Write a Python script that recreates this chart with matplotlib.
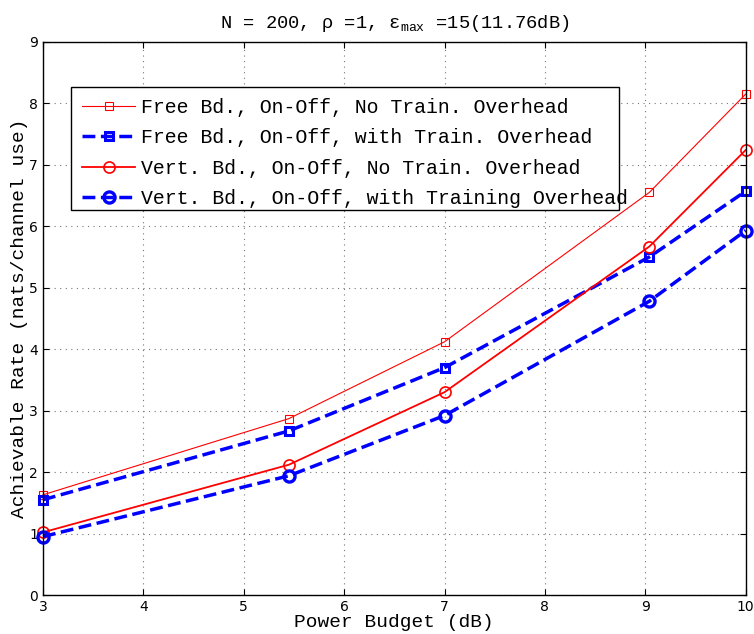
import numpy as np
import matplotlib.pyplot as plt
from matplotlib.patches import Rectangle

# ── data ──────────────────────────────────────────────────────────────────────
power_db = [3, 5.45, 7, 9.04, 10]
free_no_train   = [1.63, 2.87, 4.12, 6.55, 8.15]
free_with_train = [1.55, 2.67, 3.70, 5.50, 6.57]
vert_no_train   = [1.02, 2.12, 3.30, 5.67, 7.24]
vert_with_train = [0.95, 1.94, 2.92, 4.78, 5.93]

labels = ["Free Bd., On-Off, No Train. Overhead",
          "Free Bd., On-Off, with Train. Overhead",
          "Vert. Bd., On-Off, No Train. Overhead",
          "Vert. Bd., On-Off, with Training Overhead"]

MONO = "Liberation Mono"
plt.rcParams["mathtext.fontset"] = "custom"
plt.rcParams["mathtext.rm"] = MONO
plt.rcParams["mathtext.it"] = MONO

fig = plt.figure(figsize=(7.54, 6.34), dpi=100)
ax = fig.add_axes([0.057, 0.0615, 0.932, 0.8725])

ax.plot(power_db, free_no_train, "-s", color="red", lw=0.8, ms=6,
        mfc="none", mec="red", mew=0.8, label=labels[0], clip_on=False)
ax.plot(power_db, free_with_train, "--s", color="blue", lw=2.5, ms=6,
        mfc="none", mec="blue", mew=2.2, label=labels[1], clip_on=False)
ax.plot(power_db, vert_no_train, "-o", color="red", lw=1.3, ms=8,
        mfc="none", mec="red", mew=1.2, label=labels[2], clip_on=False)
ax.plot(power_db, vert_with_train, "--o", color="blue", lw=2.5, ms=8,
        mfc="none", mec="blue", mew=2.4, label=labels[3], clip_on=False)

ax.set_xlim(3, 10)
ax.set_ylim(0, 9)
ax.set_xticks(range(3, 11))
ax.set_yticks(range(0, 10))
ax.tick_params(direction="in", top=True, right=True, labelsize=10, length=4)
ax.grid(True, linestyle=(0, (1, 4)), color="#777777", lw=0.8)
for s in ax.spines.values():
    s.set_linewidth(1.0)

ax.set_xlabel("Power Budget (dB)", family=MONO, fontsize=14, labelpad=0)
ax.set_ylabel("Achievable Rate (nats/channel use)", family=MONO, fontsize=14, labelpad=1)
ax.set_title(r"N = 200, ρ =1, ε$_{\mathrm{max}}$ =15(11.76dB)",
             family=MONO, fontsize=13.5, pad=10)

# legend box drawn separately: in the original the last label runs past the frame
box = Rectangle((0.0398, 0.696), 0.7795, 0.2226, transform=ax.transAxes,
                facecolor="white", edgecolor="black", lw=1.0, zorder=4.9)
ax.add_patch(box)

leg = ax.legend(loc="upper left", bbox_to_anchor=(0.0398, 0.9186),
                prop={"family": MONO, "size": 14.3}, frameon=False,
                borderpad=0.55, labelspacing=0.58, handlelength=2.7,
                handletextpad=0.3, borderaxespad=0)
leg.set_zorder(5)

plt.savefig("out.png", dpi=100)
